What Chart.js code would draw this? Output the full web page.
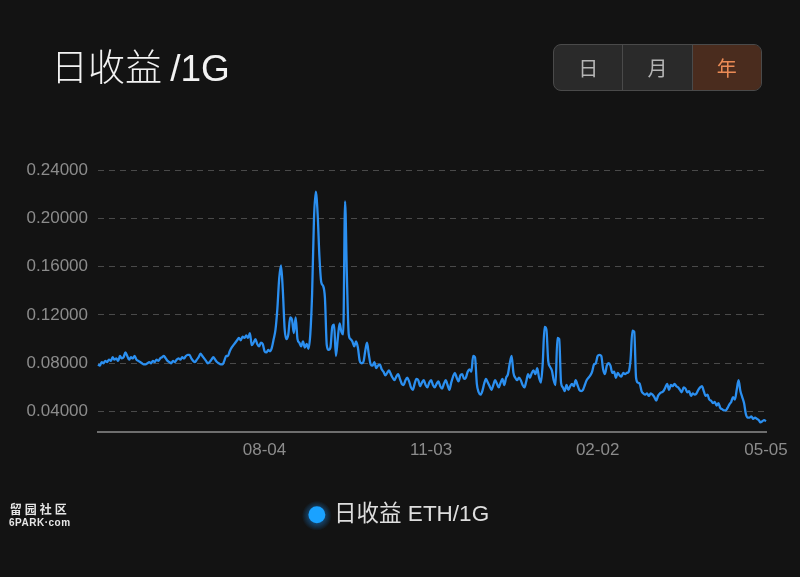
<!DOCTYPE html>
<html>
<head>
<meta charset="utf-8">
<script src="https://cdn.jsdelivr.net/npm/chart.js@4/dist/chart.umd.min.js"></script>
<style>
  html, body { margin: 0; padding: 0; background: #131313; width: 800px; height: 577px; overflow: hidden; }
  body { position: relative; font-family: "Liberation Sans", "Noto Sans CJK SC", sans-serif; }
  #title { position: absolute; left: 51px; top: 40px; color: #f2f2f2; font-size: 37px; line-height: 50px; font-family: "Noto Sans CJK SC", "Liberation Sans", sans-serif; font-weight: 300; }
  #title .lat { font-family: "Liberation Sans", sans-serif; font-weight: 400; }
  #seg { position: absolute; left: 553px; top: 44px; width: 207px; height: 45px; border: 1px solid #4a4a4a; border-radius: 8px; overflow: hidden; display: flex; background: #2a2a2a; }
  #seg div { flex: 1; display: flex; align-items: center; justify-content: center; color: #b5b5b5; font-size: 20px; font-family: "Noto Sans CJK SC", sans-serif; border-left: 1px solid #4a4a4a; }
  #seg div:first-child { border-left: none; }
  #seg div.on { background: #4a2c1e; color: #ea8a55; }
  #wm { position: absolute; left: 9px; top: 503px; color: #e6e6e6; text-align: center; line-height: 1; }
  #wm .a { font-size: 12px; letter-spacing: 3px; font-family: "Noto Sans CJK SC", serif; font-weight: 700; }
  #wm .b { font-size: 10px; margin-top: 3px; font-weight: 700; letter-spacing: 0.5px; }
  #c { position: absolute; left: 0; top: 0; }
</style>
</head>
<body>
<canvas id="c" width="800" height="577"></canvas>
<div id="title">日收益 <span class="lat">/1G</span></div>
<div id="seg"><div>日</div><div>月</div><div class="on">年</div></div>
<div id="wm"><div class="a">留园社区</div><div class="b">6PARK·com</div></div>
<script>
// ---- data (daily, 2021-05-05 .. 2022-05-05) ----
const startDate = '2021-05-05';
const seriesLabel = '日收益 ETH/1G';
const xTickLabels = ['08-04', '11-03', '02-02', '05-05'];
const yTickValues = [0.04, 0.08, 0.12, 0.16, 0.20, 0.24];
const dailyIncome = [
  0.079, 0.078, 0.081, 0.080, 0.082, 0.081, 0.083, 0.082, 0.085, 0.083,
  0.084, 0.082, 0.086, 0.084, 0.085, 0.089, 0.086, 0.083, 0.085, 0.084,
  0.086, 0.083, 0.082, 0.081, 0.080, 0.079, 0.079, 0.080, 0.081, 0.080,
  0.082, 0.081, 0.083, 0.082, 0.084, 0.085, 0.086, 0.084, 0.082, 0.081,
  0.080, 0.082, 0.081, 0.083, 0.084, 0.083, 0.085, 0.084, 0.086, 0.087,
  0.087, 0.084, 0.082, 0.081, 0.083, 0.085, 0.088, 0.086, 0.084, 0.082,
  0.080, 0.081, 0.083, 0.085, 0.083, 0.081, 0.080, 0.079, 0.079, 0.082,
  0.086, 0.086, 0.090, 0.093, 0.095, 0.097, 0.099, 0.101, 0.099, 0.102,
  0.101, 0.103, 0.101, 0.105, 0.095, 0.097, 0.100, 0.096, 0.094, 0.097,
  0.096, 0.090, 0.089, 0.091, 0.090, 0.093, 0.100, 0.108, 0.125, 0.150,
  0.161, 0.140, 0.108, 0.100, 0.104, 0.118, 0.116, 0.105, 0.118, 0.100,
  0.097, 0.094, 0.098, 0.093, 0.096, 0.092, 0.104, 0.138, 0.199, 0.222,
  0.204, 0.168, 0.147, 0.144, 0.134, 0.095, 0.091, 0.093, 0.110, 0.112,
  0.086, 0.100, 0.113, 0.106, 0.104, 0.214, 0.152, 0.104, 0.100, 0.098,
  0.094, 0.098, 0.093, 0.082, 0.080, 0.081, 0.090, 0.097, 0.087, 0.079,
  0.078, 0.081, 0.076, 0.078, 0.079, 0.075, 0.073, 0.070, 0.072, 0.074,
  0.071, 0.068, 0.066, 0.069, 0.071, 0.067, 0.063, 0.062, 0.066, 0.068,
  0.065, 0.060, 0.058, 0.063, 0.067, 0.066, 0.061, 0.064, 0.066, 0.062,
  0.060, 0.064, 0.066, 0.062, 0.060, 0.063, 0.065, 0.061, 0.059, 0.063,
  0.066, 0.062, 0.058, 0.064, 0.069, 0.072, 0.068, 0.065, 0.070, 0.071,
  0.067, 0.068, 0.073, 0.075, 0.073, 0.086, 0.085, 0.063, 0.056, 0.054,
  0.057, 0.063, 0.067, 0.064, 0.061, 0.058, 0.062, 0.066, 0.063, 0.060,
  0.064, 0.067, 0.062, 0.068, 0.071, 0.080, 0.086, 0.072, 0.068, 0.066,
  0.068, 0.066, 0.062, 0.060, 0.065, 0.071, 0.068, 0.072, 0.074, 0.071,
  0.076, 0.068, 0.064, 0.080, 0.110, 0.108, 0.082, 0.077, 0.074, 0.066,
  0.062, 0.101, 0.100, 0.064, 0.060, 0.057, 0.062, 0.058, 0.061, 0.063,
  0.061, 0.066, 0.062, 0.058, 0.057, 0.058, 0.062, 0.066, 0.068, 0.070,
  0.073, 0.079, 0.080, 0.086, 0.087, 0.086, 0.075, 0.071, 0.078, 0.080,
  0.078, 0.072, 0.073, 0.068, 0.072, 0.070, 0.069, 0.072, 0.071, 0.072,
  0.073, 0.083, 0.107, 0.106, 0.068, 0.064, 0.063, 0.057, 0.055, 0.054,
  0.055, 0.053, 0.055, 0.054, 0.052, 0.049, 0.053, 0.055, 0.056, 0.057,
  0.060, 0.063, 0.058, 0.062, 0.061, 0.063, 0.061, 0.060, 0.058, 0.056,
  0.060, 0.059, 0.056, 0.057, 0.053, 0.055, 0.054, 0.055, 0.058, 0.060,
  0.061, 0.057, 0.053, 0.054, 0.050, 0.049, 0.047, 0.048, 0.045, 0.047,
  0.043, 0.042, 0.041, 0.041, 0.043, 0.046, 0.048, 0.052, 0.050, 0.058,
  0.066, 0.057, 0.052, 0.047, 0.038, 0.035, 0.035, 0.036, 0.034, 0.035,
  0.034, 0.033, 0.031, 0.032, 0.033, 0.032
];

// category labels: one per day, 'MM-DD'
const dayLabels = [];
(function () {
  const p = startDate.split('-').map(Number);
  const t0 = Date.UTC(p[0], p[1] - 1, p[2]);
  for (let i = 0; i < dailyIncome.length; i++) {
    const d = new Date(t0 + i * 86400000);
    dayLabels.push(String(d.getUTCMonth() + 1).padStart(2, '0') + '-' + String(d.getUTCDate()).padStart(2, '0'));
  }
})();

const axisFont = { family: '"Liberation Sans", "Noto Sans", sans-serif', size: 17 };
const LEGEND_BOX = 12, LEGEND_PAD = 10;

// shift the legend slightly right and draw a soft glow behind its dot
const legendTweak = {
  id: 'legendTweak',
  afterUpdate(chart) {
    const lg = chart.legend;
    if (!lg) return;
    lg.left += 5; lg.right += 5;
  },
  afterDraw(chart) {
    const lg = chart.legend;
    if (!lg || !lg.lineWidths || !lg.legendHitBoxes || !lg.legendHitBoxes.length) return;
    const itemW = lg.lineWidths[0] - LEGEND_PAD;
    const cx = (lg.left + lg.right) / 2 - itemW / 2 + LEGEND_BOX / 2;
    const hb = lg.legendHitBoxes[0];
    const cy = hb.top + hb.height / 2;
    const ctx = chart.ctx;
    ctx.save();
    ctx.globalCompositeOperation = 'destination-over';
    const g = ctx.createRadialGradient(cx, cy + 1, 4, cx, cy + 1, 15);
    g.addColorStop(0, 'rgba(26,150,255,0.55)');
    g.addColorStop(1, 'rgba(26,150,255,0)');
    ctx.fillStyle = g;
    ctx.beginPath();
    ctx.arc(cx, cy + 1, 15, 0, Math.PI * 2);
    ctx.fill();
    ctx.restore();
  }
};

new Chart(document.getElementById('c'), {
  type: 'line',
  data: {
    labels: dayLabels,
    datasets: [{
      label: seriesLabel,
      data: dailyIncome,
      borderColor: '#2b8ff0',
      backgroundColor: '#1aa2ff',
      borderWidth: 2.3,
      pointRadius: 0,
      pointHoverRadius: 0,
      cubicInterpolationMode: 'monotone',
      fill: false
    }]
  },
  plugins: [legendTweak],
  options: {
    responsive: false,
    animation: false,
    layout: { padding: { top: 170, left: 24, right: 34, bottom: 41 } },
    scales: {
      x: {
        type: 'category',
        grid: { display: false, drawTicks: false },
        border: { display: true, color: '#6e6e6e', width: 2 },
        ticks: { color: '#8c8c8c', font: axisFont, padding: 9, autoSkip: false, maxRotation: 0, minRotation: 0 },
        afterBuildTicks: (scale) => {
          scale.ticks = xTickLabels.map(l => ({ value: dayLabels.lastIndexOf(l) }));
        },
        afterFit: (scale) => { scale.height = 62; }
      },
      y: {
        min: 0.0235,
        max: 0.24,
        grid: { color: '#4a4a4a', lineWidth: 1, drawTicks: false },
        border: { display: false, dash: [6, 5] },
        ticks: {
          color: '#8c8c8c', font: axisFont, padding: 10,
          callback: (v) => Number(v).toFixed(5)
        },
        afterBuildTicks: (scale) => {
          scale.ticks = yTickValues.map(v => ({ value: v }));
        },
        afterFit: (scale) => { scale.width = 74; }
      }
    },
    plugins: {
      legend: {
        position: 'bottom',
        labels: {
          usePointStyle: true,
          pointStyle: 'circle',
          boxWidth: LEGEND_BOX,
          boxHeight: LEGEND_BOX,
          padding: LEGEND_PAD,
          color: '#dedede',
          font: { family: '"Liberation Sans", "Noto Sans CJK SC", sans-serif', size: 22.5 },
          generateLabels: (chart) => {
            const items = Chart.defaults.plugins.legend.labels.generateLabels(chart);
            items.forEach(it => { it.lineWidth = 0; it.fillStyle = '#1aa2ff'; it.strokeStyle = '#1aa2ff'; });
            return items;
          }
        }
      },
      tooltip: { enabled: false }
    }
  }
});
</script>
</body>
</html>
